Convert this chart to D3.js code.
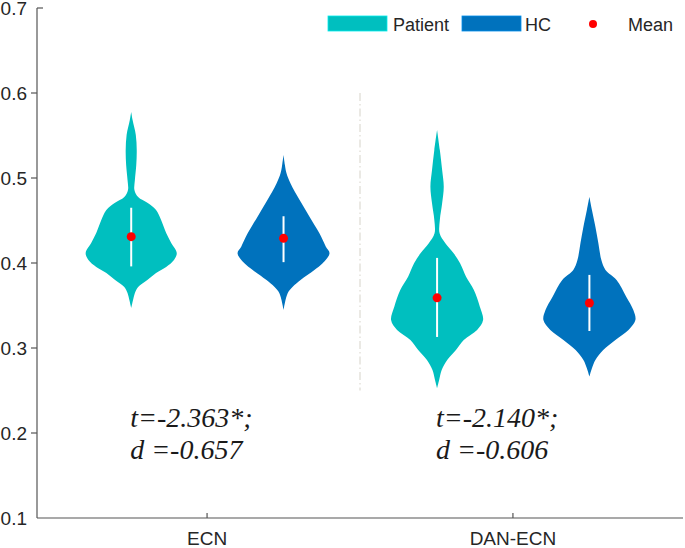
<!DOCTYPE html>
<html>
<head>
<meta charset="utf-8">
<script src="https://cdn.jsdelivr.net/npm/d3@7"></script>
<style>
  html, body { margin: 0; padding: 0; background: #fff; }
  svg { display: block; }
  .sans { font-family: "Liberation Sans", Arial, sans-serif; }
  .serif { font-family: "Liberation Serif", "Times New Roman", serif; font-style: italic; }
</style>
</head>
<body>
<svg id="chart" width="685" height="548"></svg>
<script>
// ---------------- data ----------------
const categories = ["ECN", "DAN-ECN"];
const groups = ["Patient", "HC"];
const yTicks = [0.1, 0.2, 0.3, 0.4, 0.5, 0.6, 0.7];

// violin profiles: value grid and relative density (0..1)
const ecnPatientValues  = [0.5776,0.5682,0.5506,0.5329,0.5153,0.4976,0.4859,0.4776,0.4706,0.4624,0.4506,0.4353,0.4235,0.4118,0.4035,0.3953,0.3882,0.3800,0.3718,0.3647,0.3565,0.3471];
const ecnPatientDensity = [0,0.03,0.10,0.12,0.11,0.08,0.07,0.15,0.36,0.54,0.65,0.76,0.87,0.99,0.93,0.76,0.54,0.35,0.15,0.08,0.04,0];

const ecnHCValues  = [0.5271,0.5153,0.5055,0.4938,0.4741,0.4545,0.4349,0.4192,0.4114,0.3996,0.3918,0.3800,0.3721,0.3644,0.3447];
const ecnHCDensity = [0,0.03,0.065,0.15,0.35,0.565,0.78,0.92,1.0,0.85,0.67,0.37,0.2,0.09,0];

const danPatientValues  = [0.5565,0.5329,0.5094,0.4898,0.4702,0.4506,0.4349,0.4232,0.4114,0.3996,0.3839,0.3682,0.3486,0.3329,0.3212,0.3094,0.2976,0.2859,0.2741,0.2624,0.2526];
const danPatientDensity = [0,0.06,0.11,0.145,0.11,0.06,0.055,0.18,0.36,0.5,0.63,0.8,0.93,1.0,0.87,0.58,0.41,0.22,0.1,0.045,0];

const danHCValues  = [0.4780,0.4624,0.4427,0.4232,0.4035,0.3918,0.3800,0.3604,0.3447,0.3329,0.3212,0.3094,0.2976,0.2859,0.2761,0.2663];
const danHCDensity = [0,0.055,0.13,0.195,0.26,0.35,0.59,0.8,0.955,1.0,0.85,0.565,0.3,0.13,0.055,0];

// mean and white bar (lower, upper)
const patientMeans = [0.431, 0.359];
const hcMeans      = [0.429, 0.353];
const patientBarLow  = [0.396, 0.313];
const patientBarHigh = [0.465, 0.406];
const hcBarLow  = [0.401, 0.320];
const hcBarHigh = [0.455, 0.386];

const statLine1 = ["t=-2.363*;", "t=-2.140*;"];
const statLine2 = ["d =-0.657", "d =-0.606"];
const statValue = 0.207;

const colors = { Patient: "#00BFBF", HC: "#0072BD" };

// ---------------- layout ----------------
const svg = d3.select("#chart");
const x = d3.scaleLinear().domain([0.444, 2.556]).range([37, 683]);
const y = d3.scaleLinear().domain([0.1, 0.7]).range([518, 8]);
const w = d3.scaleLinear().domain([0, 1]).range([0, 46]);
const groupOffset = { Patient: -0.248, HC: 0.25 };

const violins = [
  { cat: 0, group: "Patient", values: ecnPatientValues, dens: ecnPatientDensity, mean: patientMeans[0], lo: patientBarLow[0], hi: patientBarHigh[0] },
  { cat: 0, group: "HC", values: ecnHCValues, dens: ecnHCDensity, mean: hcMeans[0], lo: hcBarLow[0], hi: hcBarHigh[0] },
  { cat: 1, group: "Patient", values: danPatientValues, dens: danPatientDensity, mean: patientMeans[1], lo: patientBarLow[1], hi: patientBarHigh[1] },
  { cat: 1, group: "HC", values: danHCValues, dens: danHCDensity, mean: hcMeans[1], lo: hcBarLow[1], hi: hcBarHigh[1] }
];

// separator
svg.append("line")
  .attr("x1", x(1.5)).attr("x2", x(1.5))
  .attr("y1", y(0.6)).attr("y2", y(0.25))
  .attr("stroke", "#d6d3c9").attr("stroke-width", 1)
  .attr("stroke-dasharray", "8,3,1.5,3");

// violins
violins.forEach(v => {
  const cx = x(v.cat + 1 + groupOffset[v.group]);
  const pts = v.values.map((val, i) => ({ val, d: v.dens[i] }));
  const area = d3.area()
    .y(d => y(d.val))
    .x0(d => cx - w(d.d))
    .x1(d => cx + w(d.d))
    .curve(d3.curveCatmullRom.alpha(0.5));
  svg.append("path").attr("d", area(pts)).attr("fill", colors[v.group]);
  svg.append("line")
    .attr("x1", cx).attr("x2", cx)
    .attr("y1", y(v.hi)).attr("y2", y(v.lo))
    .attr("stroke", "#ffffff").attr("stroke-width", 2);
  svg.append("circle")
    .attr("cx", cx).attr("cy", y(v.mean)).attr("r", 4.5)
    .attr("fill", "#ff0000");
});

// axes
const axisColor = "#555555";
svg.append("line").attr("x1", x.range()[0]).attr("x2", x.range()[1])
  .attr("y1", y(0.1)).attr("y2", y(0.1)).attr("stroke", axisColor).attr("stroke-width", 1.2);
svg.append("line").attr("x1", x.range()[0]).attr("x2", x.range()[0])
  .attr("y1", y(0.1)).attr("y2", y(0.7)).attr("stroke", axisColor).attr("stroke-width", 1.2);

yTicks.forEach(t => {
  if (t > 0.1) {
    const dir = t >= 0.7 ? 1 : -1;
    svg.append("line").attr("x1", x.range()[0]).attr("x2", x.range()[0] + dir * 6)
      .attr("y1", y(t)).attr("y2", y(t)).attr("stroke", axisColor).attr("stroke-width", 1.2);
  }
  svg.append("text").attr("class", "sans").attr("x", 27).attr("y", y(t)).attr("dy", "0.35em")
    .attr("text-anchor", "end").attr("font-size", 19).attr("fill", "#262626")
    .text(d3.format(".1f")(t));
});

categories.forEach((c, i) => {
  svg.append("line").attr("x1", x(i + 1)).attr("x2", x(i + 1))
    .attr("y1", y(0.1)).attr("y2", y(0.1) - 5).attr("stroke", axisColor).attr("stroke-width", 1.2);
  svg.append("text").attr("class", "sans").attr("x", x(i + 1)).attr("y", y(0.1) + 27)
    .attr("text-anchor", "middle").attr("font-size", 19).attr("fill", "#262626")
    .text(c);
});

// statistics annotations
categories.forEach((c, i) => {
  const tx = x(i + 1 + groupOffset.Patient) - 1;
  const t = svg.append("text").attr("class", "serif")
    .attr("font-size", 28).attr("fill", "#1a1a1a");
  t.append("tspan").attr("x", tx).attr("y", y(statValue)).text(statLine1[i]);
  t.append("tspan").attr("x", tx).attr("y", y(statValue) + 32).text(statLine2[i]);
});

// legend
const legend = svg.append("g");
const legendItems = [
  { type: "rect", label: "Patient", color: colors.Patient, x: 328, tx: 393 },
  { type: "rect", label: "HC", color: colors.HC, x: 462, tx: 525 },
  { type: "dot", label: "Mean", color: "#ff0000", x: 593, tx: 628 }
];
legendItems.forEach(it => {
  if (it.type === "rect") {
    legend.append("rect").attr("x", it.x).attr("y", 16).attr("width", 59).attr("height", 15)
      .attr("fill", it.color).attr("stroke", d3.color(it.color).brighter(0.6)).attr("stroke-width", 0.8);
  } else {
    legend.append("circle").attr("cx", it.x).attr("cy", 24).attr("r", 4).attr("fill", it.color);
  }
  legend.append("text").attr("class", "sans").attr("x", it.tx).attr("y", 31).attr("font-size", 18).attr("fill", "#262626")
    .text(it.label);
});
</script>
</body>
</html>
